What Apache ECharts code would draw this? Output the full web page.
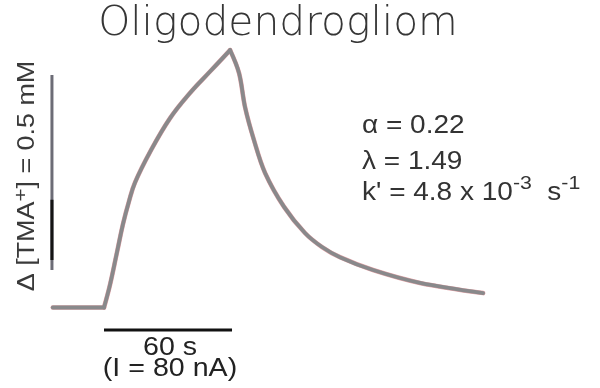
<!DOCTYPE html>
<html>
<head>
<meta charset="utf-8">
<script src="https://cdn.jsdelivr.net/npm/echarts@6/dist/echarts.min.js"></script>
<style>
  html, body { margin: 0; padding: 0; background: #ffffff; }
  #chart { width: 600px; height: 388px; }
</style>
</head>
<body>
<div id="chart"></div>
<script>
// TMA+ concentration change during and after iontophoresis (80 nA for 60 s)
const timeS = [-24, 0, 2.8, 6.1, 8.9, 11.7, 14.5, 21.6, 30.9, 40.3, 49.7, 59.1,
               63.3, 66.1, 70.3, 75.5, 84.4, 94.2, 102.2, 110.6, 126.1, 148.1, 177.7];
const tmaMM = [0, 0, 0.058, 0.142, 0.214, 0.272, 0.320, 0.399, 0.485, 0.550, 0.605, 0.660,
               0.601, 0.514, 0.429, 0.345, 0.258, 0.191, 0.155, 0.129, 0.096, 0.063, 0.037];

// Scale bars
const scaleConcMM = 0.5;   // vertical bar
const scaleTimeS = 60;     // horizontal bar (duration of the current pulse)
const currentNA = 80;

// Fit parameters
const fitParams = ['0.22', '1.49', '4.8'];

const points = timeS.map((t, i) => [t, tmaMM[i]]);
const onset = timeS.indexOf(0);
const peak = tmaMM.indexOf(Math.max(...tmaMM));
// baseline, rising phase and clearance phase are drawn as separate pieces
// so the corners at onset and at the end of the pulse stay sharp
const pieces = [
  { data: points.slice(0, onset + 1), smooth: false },
  { data: points.slice(onset, peak + 1), smooth: 0.4 },
  { data: points.slice(peak), smooth: 0.35 }
];

// anchors for the scale bars, in data units
const vBarT = -24.4, vBarBase = 0.096;
const hBarC = -0.058;

const series = [];
pieces.forEach((p) => {
  series.push({
    type: 'line', data: p.data, smooth: p.smooth, showSymbol: false,
    lineStyle: { color: '#e2a4a8', width: 4.6, cap: 'round', join: 'round' }, z: 2
  });
  series.push({
    type: 'line', data: p.data, smooth: p.smooth, showSymbol: false,
    lineStyle: { color: '#89898b', width: 3.8, cap: 'round', join: 'round' }, z: 3
  });
});
series.push(
  {
    type: 'line', showSymbol: false,
    data: [[vBarT, vBarBase], [vBarT, vBarBase + scaleConcMM]],
    lineStyle: { color: '#6c6c76', width: 3 }, z: 4
  },
  {
    type: 'line', showSymbol: false,
    data: [[vBarT, 0.122], [vBarT, 0.276]],
    lineStyle: { color: '#141414', width: 3 }, z: 5
  },
  {
    type: 'line', showSymbol: false,
    data: [[0, hBarC], [scaleTimeS, hBarC]],
    lineStyle: { color: '#111111', width: 3 }, z: 4
  }
);

const txt = '"Liberation Sans", Arial, sans-serif';

const chart = echarts.init(document.getElementById('chart'), null, { renderer: 'canvas' });

chart.setOption({
  backgroundColor: '#ffffff',
  animation: false,
  grid: { left: 50.67, right: 69.3, top: 15, bottom: 41.5 },
  xAxis: { type: 'value', min: -25, max: 200, show: false },
  yAxis: { type: 'value', min: -0.1, max: 0.75, show: false },
  series: series,
  graphic: [
    {
      type: 'text', x: 278, y: 25, scaleX: 1.02,
      style: {
        text: 'Oligodendrogliom', textAlign: 'center', textVerticalAlign: 'middle',
        font: '300 40px "DejaVu Sans"', fill: '#363636'
      }
    },
    {
      type: 'text', rotation: Math.PI / 2, x: 28, y: 176, scaleX: 1.17,
      style: {
        text: 'Δ [TMA{s|+}] = ' + scaleConcMM + ' mM', textAlign: 'center', textVerticalAlign: 'middle',
        font: '23px ' + txt, fill: '#3a3a3a',
        rich: { s: { font: '19px ' + txt, fill: '#3a3a3a', padding: [0, 0, 12, 0] } }
      }
    },
    {
      type: 'text', x: 362, y: 126, scaleX: 1.12,
      style: { text: 'α = ' + fitParams[0], textVerticalAlign: 'middle', font: '25px ' + txt, fill: '#333' }
    },
    {
      type: 'text', x: 362, y: 162, scaleX: 1.12,
      style: { text: 'λ = ' + fitParams[1], textVerticalAlign: 'middle', font: '25px ' + txt, fill: '#333' }
    },
    {
      type: 'text', x: 362, y: 193, scaleX: 1.12,
      style: {
        text: "k' = " + fitParams[2] + ' x 10{s|-3}  s{s|-1}', textVerticalAlign: 'middle',
        font: '25px ' + txt, fill: '#333',
        rich: { s: { font: '19px ' + txt, fill: '#333', padding: [0, 0, 18, 0] } }
      }
    },
    {
      type: 'text', x: 170, y: 348, scaleX: 1.1,
      style: { text: scaleTimeS + ' s', textAlign: 'center', textVerticalAlign: 'middle', font: '26px ' + txt, fill: '#222' }
    },
    {
      type: 'text', x: 170, y: 369, scaleX: 1.1,
      style: { text: '(I = ' + currentNA + ' nA)', textAlign: 'center', textVerticalAlign: 'middle', font: '26px ' + txt, fill: '#222' }
    }
  ]
});
</script>
</body>
</html>
